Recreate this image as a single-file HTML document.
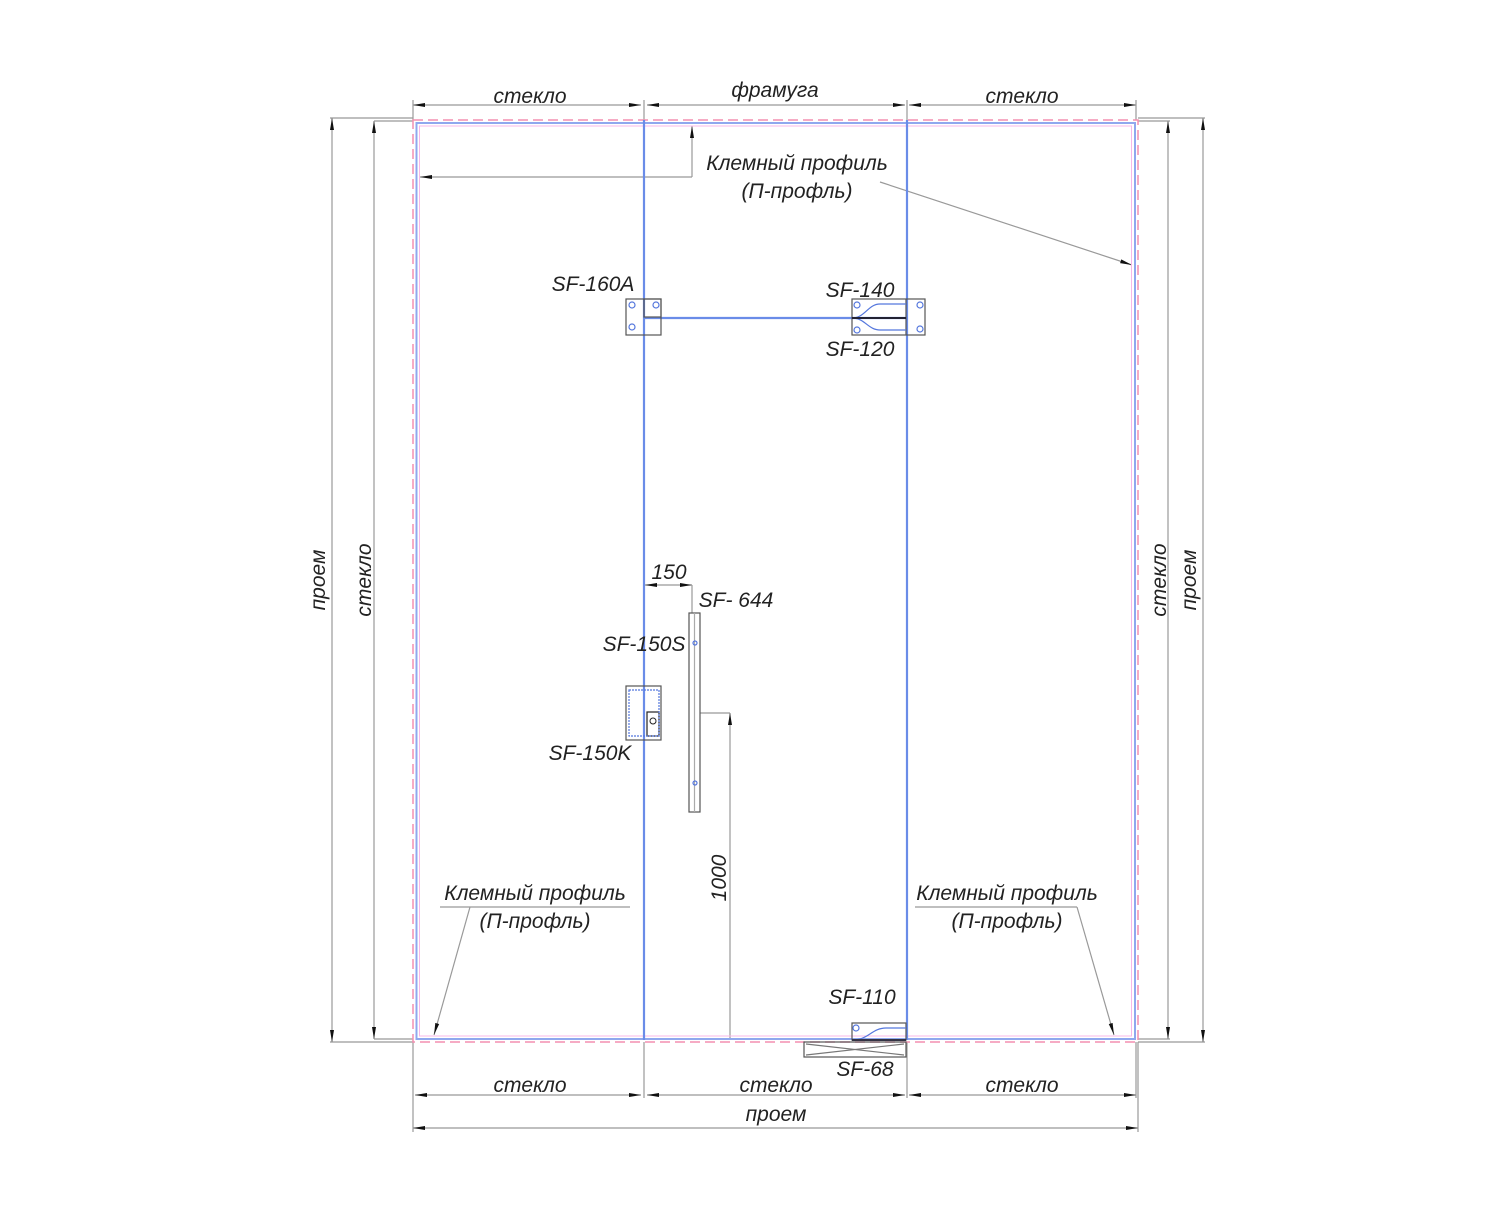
<!DOCTYPE html>
<html><head><meta charset="utf-8"><style>
html,body{margin:0;padding:0;background:#fff;}
svg text{font-family:"Liberation Sans","DejaVu Sans",sans-serif;font-style:italic;font-size:21px;fill:#222;}
</style></head><body>
<svg width="1500" height="1200" viewBox="0 0 1500 1200" xmlns="http://www.w3.org/2000/svg">
<defs>
<marker id="a" viewBox="0 0 12 6" refX="12" refY="3" markerWidth="12" markerHeight="6" orient="auto-start-reverse" markerUnits="userSpaceOnUse"><path d="M0,1 L12,3 L0,5z" fill="#111"/></marker>
</defs>
<g stroke="#999" stroke-width="1.2" fill="none">
<!-- top dims -->
<line x1="413" y1="105" x2="641" y2="105" marker-start="url(#a)" marker-end="url(#a)"/>
<line x1="647" y1="105" x2="905" y2="105" marker-start="url(#a)" marker-end="url(#a)"/>
<line x1="909" y1="105" x2="1136" y2="105" marker-start="url(#a)" marker-end="url(#a)"/>
<line x1="413" y1="100" x2="413" y2="120"/><line x1="644" y1="100" x2="644" y2="120"/><line x1="907" y1="100" x2="907" y2="120"/><line x1="1136" y1="100" x2="1136" y2="120"/>
<!-- left dims -->
<line x1="330" y1="118" x2="413" y2="118"/><line x1="374" y1="121" x2="413" y2="121"/>
<line x1="330" y1="1042" x2="413" y2="1042"/><line x1="374" y1="1039" x2="413" y2="1039"/>
<line x1="332" y1="118" x2="332" y2="1042" marker-start="url(#a)" marker-end="url(#a)"/>
<line x1="374" y1="121" x2="374" y2="1039" marker-start="url(#a)" marker-end="url(#a)"/>
<!-- right dims -->
<line x1="1138" y1="118" x2="1205" y2="118"/><line x1="1138" y1="121" x2="1170" y2="121"/>
<line x1="1138" y1="1042" x2="1205" y2="1042"/><line x1="1138" y1="1039" x2="1170" y2="1039"/>
<line x1="1203" y1="118" x2="1203" y2="1042" marker-start="url(#a)" marker-end="url(#a)"/>
<line x1="1168" y1="121" x2="1168" y2="1039" marker-start="url(#a)" marker-end="url(#a)"/>
<!-- bottom dims -->
<line x1="413" y1="1042" x2="413" y2="1132"/><line x1="644" y1="1042" x2="644" y2="1098"/><line x1="907" y1="1042" x2="907" y2="1098"/><line x1="1136" y1="1042" x2="1136" y2="1098"/><line x1="1138" y1="1042" x2="1138" y2="1132"/>
<line x1="415" y1="1095" x2="641" y2="1095" marker-start="url(#a)" marker-end="url(#a)"/>
<line x1="647" y1="1095" x2="905" y2="1095" marker-start="url(#a)" marker-end="url(#a)"/>
<line x1="909" y1="1095" x2="1136" y2="1095" marker-start="url(#a)" marker-end="url(#a)"/>
<line x1="413" y1="1128" x2="1138" y2="1128" marker-start="url(#a)" marker-end="url(#a)"/>
<!-- leaders -->
<line x1="692" y1="177" x2="692" y2="126" marker-end="url(#a)"/>
<line x1="692" y1="177" x2="420" y2="177" marker-end="url(#a)"/>
<line x1="880" y1="182" x2="1132" y2="265" marker-end="url(#a)"/>
<line x1="440" y1="907" x2="630" y2="907"/><line x1="470" y1="907" x2="434" y2="1035" marker-end="url(#a)"/>
<line x1="915" y1="907" x2="1077" y2="907"/><line x1="1077" y1="907" x2="1114" y2="1035" marker-end="url(#a)"/>
<!-- 150 -->
<line x1="645" y1="585" x2="692" y2="585" marker-start="url(#a)" marker-end="url(#a)"/>
<line x1="692" y1="585" x2="692" y2="613"/>
<!-- 1000 -->
<line x1="700" y1="713" x2="730" y2="713"/>
<line x1="730" y1="1040" x2="730" y2="713" marker-end="url(#a)"/>
</g>
<!-- frame -->
<rect x="413" y="120" width="725" height="922" fill="none" stroke="#f48fb1" stroke-width="1.5" stroke-dasharray="10,5"/>
<rect x="416.5" y="123" width="718.5" height="916" fill="none" stroke="#8fa8ee" stroke-width="2"/>
<rect x="419.5" y="126" width="712" height="910" fill="none" stroke="#f8b8e8" stroke-width="1"/>
<g stroke="#6a8ce8" stroke-width="2.2">
<line x1="644" y1="120" x2="644" y2="1040"/>
<line x1="907" y1="120" x2="907" y2="1040"/>
<line x1="644" y1="318" x2="907" y2="318"/>
</g>
<!-- fittings -->
<g fill="none" stroke="#555" stroke-width="1.2">
<rect x="626" y="299" width="35" height="36"/><rect x="644" y="299" width="17" height="18"/>
<rect x="852" y="299" width="73" height="36"/><line x1="906" y1="299" x2="906" y2="335"/>
<rect x="689" y="613" width="11" height="199"/><line x1="694.5" y1="613" x2="694.5" y2="812" stroke="#aaa"/>
<rect x="626" y="686" width="35" height="54"/>
<rect x="647" y="712" width="12" height="24" stroke="#222"/>
<rect x="852" y="1023" width="54" height="17"/>
<rect x="804" y="1042" width="102" height="15"/>
<path d="M806,1044 L904,1055 M806,1055 L904,1044" stroke="#777"/>
</g>
<g fill="none" stroke="#5577dd" stroke-width="1.2">
<circle cx="632" cy="305" r="3"/><circle cx="632" cy="327" r="3"/><circle cx="656" cy="305" r="3"/>
<circle cx="857" cy="305" r="3"/><circle cx="857" cy="330" r="3"/><circle cx="920" cy="305" r="3"/><circle cx="920" cy="329" r="3"/>
<path d="M852,318 C865,318 868,304 880,304 L906,304"/><path d="M852,318 C865,318 868,330 880,330 L906,330"/>
<line x1="852" y1="318" x2="906" y2="318" stroke="#223" stroke-width="2"/>
<rect x="629" y="690" width="30" height="46" stroke-dasharray="2,1"/>
<circle cx="695" cy="643" r="2"/><circle cx="695" cy="783" r="2"/>
<circle cx="856" cy="1028" r="3"/><path d="M853,1040 C868,1040 872,1028 886,1028 L906,1028"/>
<line x1="852" y1="1040" x2="906" y2="1040" stroke="#334" stroke-width="2"/>
</g>
<circle cx="653" cy="721" r="3" fill="none" stroke="#222"/>
<!-- text -->
<g text-anchor="middle">
<text x="530" y="103">стекло</text><text x="775" y="97">фрамуга</text><text x="1022" y="103">стекло</text>
<text x="797" y="170">Клемный профиль</text><text x="797" y="198">(П-профль)</text>
<text x="593" y="291">SF-160A</text><text x="860" y="297">SF-140</text><text x="860" y="356">SF-120</text>
<text x="669" y="579">150</text><text x="736" y="607">SF- 644</text>
<text x="644" y="651">SF-150S</text><text x="590" y="760">SF-150K</text>
<text x="535" y="900">Клемный профиль</text><text x="535" y="928">(П-профль)</text>
<text x="1007" y="900">Клемный профиль</text><text x="1007" y="928">(П-профль)</text>
<text x="862" y="1004">SF-110</text><text x="865" y="1076">SF-68</text>
<text x="530" y="1092">стекло</text><text x="776" y="1092">стекло</text><text x="1022" y="1092">стекло</text>
<text x="776" y="1121">проем</text>
<text transform="translate(325,580) rotate(-90)">проем</text>
<text transform="translate(371,580) rotate(-90)">стекло</text>
<text transform="translate(1166,580) rotate(-90)">стекло</text>
<text transform="translate(1196,580) rotate(-90)">проем</text>
<text transform="translate(726,878) rotate(-90)">1000</text>
</g>
</svg>
</body></html>
